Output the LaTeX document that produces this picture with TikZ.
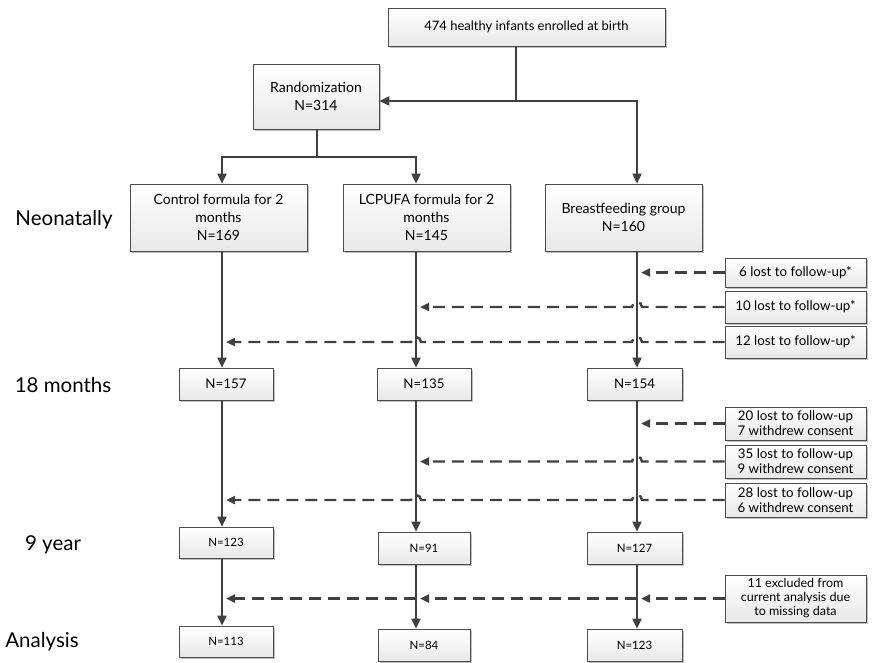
\documentclass[tikz,border=0pt]{standalone}
\usepackage{fontspec}
\setmainfont{Lato}
\usetikzlibrary{arrows.meta,shadows,calc}
\definecolor{linegray}{HTML}{404040}
\tikzset{
  box/.style={draw=black!70, line width=0.7pt, top color=white, bottom color=black!9,
    drop shadow={shadow xshift=2pt, shadow yshift=-2pt, fill=black!25, opacity=1},
    align=center, inner sep=1pt, font=\fontsize{14}{18}\selectfont},
  small box/.style={box, font=\fontsize{11.5}{13}\selectfont},
  note box/.style={box, font=\fontsize{13.3}{15}\selectfont},
  flow/.style={draw=linegray, line width=1.8pt, -{Triangle[length=10pt,width=9pt]}},
  lost/.style={flow, line width=2.4pt, dash pattern=on 12pt off 7pt, shorten >=4pt,
    -{Triangle[length=9pt,width=8pt]}},
  stage/.style={font=\fontsize{20.5}{22}\selectfont}
}
\begin{document}
\begin{tikzpicture}[x=1pt,y=1pt]
\useasboundingbox (0,0) rectangle (873,-662);

% stages
\node[stage] (neonatal) at (64,-220) {Neonatally};
\node[stage] (months18) at (63,-385) {18 months};
\node[stage] (year9) at (53,-545) {9 year};
\node[stage] (analysis) at (42,-642) {Analysis};

% columns
\coordinate (colA) at (222,0);
\coordinate (colB) at (416,0);
\coordinate (colC) at (637,0);
\coordinate (split) at (516,-101);
\coordinate (fork) at (317,-157);

\node[box, minimum width=277pt, minimum height=38pt, font=\fontsize{13}{16}\selectfont] (birth) at (526.5,-27) {474 healthy infants enrolled at birth};
\node[box, minimum width=126pt, minimum height=65pt] (rand) at (316,-96.5) {Randomization\\N=314};
\node[box, minimum width=177pt, minimum height=67pt] (neoA) at (218.5,-217.5) {Control formula for 2\\months\\N=169};
\node[box, minimum width=167pt, minimum height=67pt] (neoB) at (426.5,-217.5) {LCPUFA formula for 2\\months\\N=145};
\node[box, minimum width=157pt, minimum height=67pt] (neoC) at (623.5,-217.5) {Breastfeeding group\\N=160};

\node[note box, minimum width=94pt, minimum height=32pt] (m18A) at (226,-384) {N=157};
\node[note box, minimum width=94pt, minimum height=32pt] (m18B) at (424,-384) {N=135};
\node[note box, minimum width=95pt, minimum height=32pt] (m18C) at (634.5,-384) {N=154};

\node[small box, minimum width=94pt, minimum height=31pt] (y9A) at (226,-542.5) {N=123};
\node[small box, minimum width=92pt, minimum height=32pt] (y9B) at (424,-548) {N=91};
\node[small box, minimum width=95pt, minimum height=32pt] (y9C) at (634.5,-548) {N=127};

\node[small box, minimum width=94pt, minimum height=31pt] (anA) at (226,-641.5) {N=113};
\node[small box, minimum width=92pt, minimum height=32pt] (anB) at (424,-645) {N=84};
\node[small box, minimum width=95pt, minimum height=32pt] (anC) at (634.5,-645) {N=123};

% losses
\node[note box, minimum width=141pt, minimum height=29pt] (lostA) at (795.5,-272.5) {6 lost to follow-up*};
\node[note box, minimum width=141pt, minimum height=32pt] (lostB) at (795.5,-307) {10 lost to follow-up*};
\node[note box, minimum width=141pt, minimum height=32pt] (lostC) at (795.5,-342) {12 lost to follow-up*};
\node[note box, minimum width=141pt, minimum height=33pt] (wdA) at (795.5,-423.5) {20 lost to follow-up\\7 withdrew consent};
\node[note box, minimum width=141pt, minimum height=33pt] (wdB) at (795.5,-461.5) {35 lost to follow-up\\9 withdrew consent};
\node[note box, minimum width=141pt, minimum height=34pt] (wdC) at (795.5,-500) {28 lost to follow-up\\6 withdrew consent};
\node[small box, minimum width=141pt, minimum height=47pt, font=\fontsize{12.5}{14}\selectfont] (excl) at (795.5,-598.5) {11 excluded from\\current analysis due\\to missing data};

% main flow
\draw[flow, -] (birth.south -| split) -- (split);
\draw[flow] (split) -- (rand.east |- split);
\draw[flow] (split) -| (neoC.north -| colC);
\draw[flow, -] (rand.south -| fork) -- (fork);
\draw[flow] (fork) -| (neoA.north -| colA);
\draw[flow] (fork) -| (neoB.north -| colB);

\foreach \c/\a/\b/\d/\e in {colA/neoA/m18A/y9A/anA, colB/neoB/m18B/y9B/anB, colC/neoC/m18C/y9C/anC}{
  \draw[flow] (\a.south -| \c) -- (\b.north -| \c);
  \draw[flow] (\b.south -| \c) -- (\d.north -| \c);
  \draw[flow] (\d.south -| \c) -- (\e.north -| \c);
}

% dropouts
\draw[lost] (lostA.west) -- (colC |- lostA.west);
\draw[lost] (lostB.west) -- ($(colC |- lostB.west)+(5,0)$) arc[start angle=0, end angle=180, radius=5pt] -- (colB |- lostB.west);
\draw[lost] (lostC.west) -- ($(colC |- lostC.west)+(5,0)$) arc[start angle=0, end angle=180, radius=5pt]
  -- ($(colB |- lostC.west)+(5,0)$) arc[start angle=0, end angle=180, radius=5pt] -- (colA |- lostC.west);
\draw[lost] (wdA.west) -- (colC |- wdA.west);
\draw[lost] (wdB.west) -- ($(colC |- wdB.west)+(5,0)$) arc[start angle=0, end angle=180, radius=5pt] -- (colB |- wdB.west);
\draw[lost] (wdC.west) -- ($(colC |- wdC.west)+(5,0)$) arc[start angle=0, end angle=180, radius=5pt]
  -- ($(colB |- wdC.west)+(5,0)$) arc[start angle=0, end angle=180, radius=5pt] -- (colA |- wdC.west);
\draw[lost] (excl.west) -- (colC |- excl.west);
\draw[lost] (colC |- excl.west) -- (colB |- excl.west);
\draw[lost] (colB |- excl.west) -- (colA |- excl.west);
\end{tikzpicture}
\end{document}
